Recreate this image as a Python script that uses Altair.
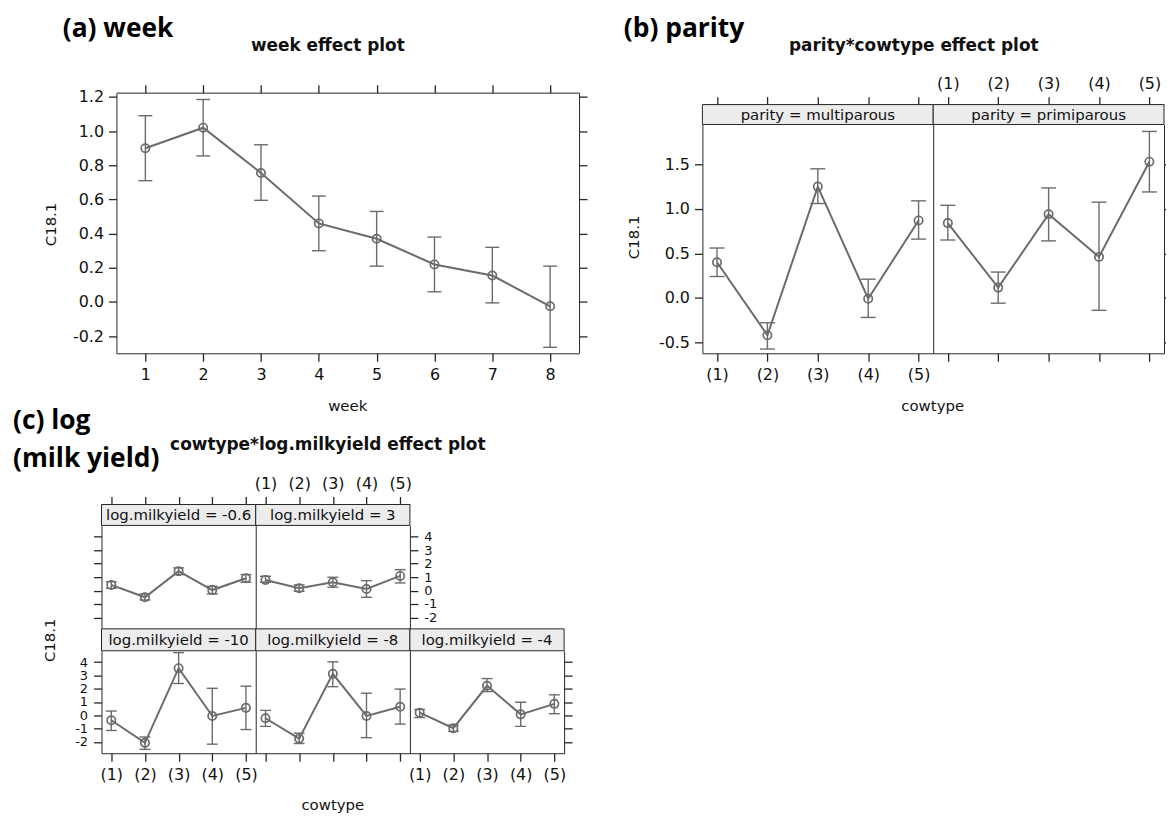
import altair as alt
import pandas as pd

# ---------------- data ----------------
weeks = [1, 2, 3, 4, 5, 6, 7, 8]
week_fit = [0.90, 1.02, 0.755, 0.46, 0.37, 0.22, 0.155, -0.025]
week_lower = [0.71, 0.855, 0.595, 0.30, 0.21, 0.06, -0.005, -0.265]
week_upper = [1.09, 1.185, 0.92, 0.62, 0.53, 0.38, 0.32, 0.21]
week_yticks = [-0.2, 0.0, 0.2, 0.4, 0.6, 0.8, 1.0, 1.2]

cowtypes = [1, 2, 3, 4, 5]

multi_fit = [0.40, -0.42, 1.25, -0.01, 0.87]
multi_lower = [0.24, -0.575, 1.06, -0.22, 0.66]
multi_upper = [0.56, -0.28, 1.45, 0.21, 1.09]
prim_fit = [0.84, 0.115, 0.94, 0.46, 1.53]
prim_lower = [0.65, -0.06, 0.64, -0.14, 1.19]
prim_upper = [1.04, 0.29, 1.235, 1.075, 1.87]
parity_yticks = [-0.5, 0.0, 0.5, 1.0, 1.5]

my_m06_fit = [0.42, -0.50, 1.44, 0.04, 0.92]
my_m06_lower = [0.17, -0.70, 1.19, -0.25, 0.62]
my_m06_upper = [0.66, -0.25, 1.69, 0.32, 1.19]
my_p3_fit = [0.79, 0.17, 0.62, 0.12, 1.09]
my_p3_lower = [0.62, -0.05, 0.25, -0.50, 0.57]
my_p3_upper = [1.07, 0.42, 0.99, 0.74, 1.56]
my_m10_fit = [-0.37, -2.07, 3.54, -0.05, 0.56]
my_m10_lower = [-1.14, -2.56, 2.39, -2.17, -1.07]
my_m10_upper = [0.32, -1.63, 4.71, 2.03, 2.19]
my_m8_fit = [-0.22, -1.75, 3.12, -0.05, 0.64]
my_m8_lower = [-0.83, -2.12, 2.15, -1.68, -0.66]
my_m8_upper = [0.37, -1.34, 4.02, 1.66, 1.97]
my_m4_fit = [0.20, -0.97, 2.22, 0.07, 0.86]
my_m4_lower = [-0.17, -1.21, 1.78, -0.83, 0.12]
my_m4_upper = [0.44, -0.73, 2.76, 0.98, 1.54]
milk_yticks = [-2, -1, 0, 1, 2, 3, 4]

# ---------------- layout / style ----------------
W, H = 1164, 806
FONT = "DejaVu Sans"
HEAD_FONT = "Open Sans"
GRAY = "#6b6b6b"
INK = "#262626"
STRIP = "#ececec"

FMT1 = "replace(format(datum.value, '.1f'), '\u2212', '-')"
FMTI = "replace(format(datum.value, 'd'), '\u2212', '-')"
FMTC = "'(' + datum.value + ')'"


def ax(orient, pos, values, labels=True, ticks=True, expr=None, size=16, **kw):
    if orient == "bottom":
        off = pos - H
    elif orient == "right":
        off = pos - W
    else:
        off = -pos
    args = dict(orient=orient, offset=off, values=values, labels=labels, ticks=ticks,
                tickSize=8, tickWidth=1.3, tickColor=INK, domain=True, domainColor=INK,
                domainWidth=1, grid=False, labelFont=FONT, labelFontSize=size,
                labelColor="#111111", labelPadding=5, labelOverlap=False, labelFlush=False,
                title=None)
    if expr:
        args["labelExpr"] = expr
    if "title" in kw:
        args.update(titleFont=FONT, titleFontSize=15, titleColor="#111111",
                    titleFontWeight="normal", titleAlign="center", titleBaseline="middle",
                    titleAngle=0)
    args.update(kw)
    return alt.Axis(**args)


def frame(xcol, xvals, fit, lower, upper):
    return pd.DataFrame({xcol: xvals, "fit": fit, "lower": lower, "upper": upper})


def panel(df, xcol, xdom, xr, ydom, yr, cap, axes):
    sx = alt.Scale(domain=xdom, range=xr, zero=False, nice=False)
    sy = alt.Scale(domain=ydom, range=yr, zero=False, nice=False)
    caps_df = pd.concat([
        pd.DataFrame({xcol: df[xcol], "bound": df["lower"]}),
        pd.DataFrame({xcol: df[xcol], "bound": df["upper"]}),
    ], ignore_index=True)
    bars = alt.Chart(df).mark_rule(color=GRAY, strokeWidth=1.4).encode(
        x=alt.X(f"{xcol}:Q", scale=sx, axis=axes.get("bottom")),
        y=alt.Y("lower:Q", scale=sy, axis=axes.get("left")),
        y2="upper:Q",
    )
    caps = alt.Chart(caps_df).mark_tick(orient="horizontal", size=cap, thickness=1.4,
                                        color=GRAY, opacity=1).encode(
        x=alt.X(f"{xcol}:Q", scale=sx, axis=axes.get("top")),
        y=alt.Y("bound:Q", scale=sy, axis=axes.get("right")),
    )
    line = alt.Chart(df).mark_line(color=GRAY, strokeWidth=2).encode(
        x=alt.X(f"{xcol}:Q", scale=sx, axis=None),
        y=alt.Y("fit:Q", scale=sy, axis=None),
    )
    pts = alt.Chart(df).mark_point(shape="circle", filled=False, size=70, strokeWidth=1.7,
                                   color=GRAY, opacity=1).encode(
        x=alt.X(f"{xcol}:Q", scale=sx, axis=None),
        y=alt.Y("fit:Q", scale=sy, axis=None),
    )
    return [bars, caps, line, pts]


def strip(label, xr, yr, size=15):
    d = pd.DataFrame({"label": [label]})
    sx = alt.Scale(domain=[0, 1], range=xr, zero=False, nice=False)
    sy = alt.Scale(domain=[0, 1], range=yr, zero=False, nice=False)
    box = alt.Chart(d).mark_rect(fill=STRIP, stroke=INK, strokeWidth=1).encode(
        x=alt.X(datum=0, scale=sx, axis=None), x2=alt.X2(datum=1),
        y=alt.Y(datum=0, scale=sy, axis=None), y2=alt.Y2(datum=1),
    )
    txt = alt.Chart(d).mark_text(font=FONT, fontSize=size, color="#111111").encode(
        x=alt.X(datum=0.5, scale=sx, axis=None),
        y=alt.Y(datum=0.5, scale=sy, axis=None),
        text="label:N",
    )
    return [box, txt]


def heading(text, x, y):
    return alt.Chart(pd.DataFrame({"t": [text]})).mark_text(
        font=HEAD_FONT, fontSize=26.5, fontWeight="bold", align="left",
        baseline="alphabetic", color="#000000",
    ).encode(x=alt.value(x), y=alt.value(y), text="t:N")


TITLE_BOLD = dict(titleFontWeight="bold", titleFontSize=17, titleBaseline="alphabetic")

layers = []

# ---------------- (a) week ----------------
A_X, A_Y = [109, 574], [345, 83]
layers += panel(
    frame("week", weeks, week_fit, week_lower, week_upper), "week",
    [0.5, 8.5], A_X, [-0.3, 1.225], A_Y, 14,
    {
        "bottom": ax("bottom", 345, weeks, title="week", titleX=341, titleY=52),
        "left": ax("left", 109, week_yticks, expr=FMT1, title="C18.1",
                   titleX=-66, titleY=215, titleAngle=270),
        "top": ax("top", 83, weeks, labels=False, title="week effect plot",
                  titleX=321, titleY=-42, **TITLE_BOLD),
        "right": ax("right", 574, week_yticks, labels=False),
    },
)

# ---------------- (b) parity*cowtype ----------------
CDOM = [0.71, 5.29]
B_Y = [345, 115]
B_STRIP = [115, 95]
BDOM = [-0.623, 1.948]
layers += panel(
    frame("cowtype", cowtypes, multi_fit, multi_lower, multi_upper), "cowtype",
    CDOM, [698, 930], BDOM, B_Y, 15,
    {
        "bottom": ax("bottom", 345, cowtypes, expr=FMTC, size=16, title="cowtype",
                     titleX=929, titleY=52),
        "left": ax("left", 698, parity_yticks, expr=FMT1, title="C18.1",
                   titleX=-69, titleY=228, titleAngle=270),
        "top": ax("top", 95, cowtypes, labels=False),
        "right": ax("right", 930, parity_yticks, labels=False, ticks=False),
    },
)
layers += panel(
    frame("cowtype", cowtypes, prim_fit, prim_lower, prim_upper), "cowtype",
    CDOM, [930, 1162], BDOM, B_Y, 15,
    {
        "bottom": ax("bottom", 345, cowtypes, labels=False),
        "top": ax("top", 95, cowtypes, expr=FMTC, size=16,
                  title="parity*cowtype effect plot", titleX=910, titleY=-54, **TITLE_BOLD),
        "right": ax("right", 1162, parity_yticks, labels=False),
    },
)
layers += strip("parity = multiparous", [698, 930], B_STRIP)
layers += strip("parity = primiparous", [930, 1162], B_STRIP)

# ---------------- (c) cowtype*log.milkyield ----------------
C1, C2, C3 = [94, 249], [249, 404], [404, 559]
TOP_Y, TOP_STRIP = [622, 518], [518, 497]
BOT_Y, BOT_STRIP = [747, 644], [644, 622]
MDOM = [-2.85, 4.85]

layers += panel(
    frame("cowtype", cowtypes, my_m06_fit, my_m06_lower, my_m06_upper), "cowtype",
    CDOM, C1, MDOM, TOP_Y, 11,
    {
        "bottom": ax("bottom", 622, cowtypes, labels=False, ticks=False),
        "left": ax("left", 94, milk_yticks, labels=False),
        "top": ax("top", 497, cowtypes, labels=False),
        "right": ax("right", 249, milk_yticks, labels=False, ticks=False),
    },
)
layers += panel(
    frame("cowtype", cowtypes, my_p3_fit, my_p3_lower, my_p3_upper), "cowtype",
    CDOM, C2, MDOM, TOP_Y, 11,
    {
        "bottom": ax("bottom", 622, cowtypes, labels=False, ticks=False),
        "top": ax("top", 497, cowtypes, expr=FMTC, size=16,
                  title="cowtype*log.milkyield effect plot", titleX=321, titleY=-55,
                  **TITLE_BOLD),
        "right": ax("right", 404, milk_yticks, expr=FMTI, size=13, labelPadding=6),
    },
)
layers += panel(
    frame("cowtype", cowtypes, my_m10_fit, my_m10_lower, my_m10_upper), "cowtype",
    CDOM, C1, MDOM, BOT_Y, 11,
    {
        "bottom": ax("bottom", 747, cowtypes, expr=FMTC, size=16, title="cowtype",
                     titleX=326, titleY=52),
        "left": ax("left", 94, milk_yticks, expr=FMTI, size=13, labelPadding=6,
                   title="C18.1", titleX=-52, titleY=633, titleAngle=270),
        "right": ax("right", 249, milk_yticks, labels=False, ticks=False),
    },
)
layers += panel(
    frame("cowtype", cowtypes, my_m8_fit, my_m8_lower, my_m8_upper), "cowtype",
    CDOM, C2, MDOM, BOT_Y, 11,
    {
        "bottom": ax("bottom", 747, cowtypes, labels=False),
        "right": ax("right", 404, milk_yticks, labels=False, ticks=False),
    },
)
layers += panel(
    frame("cowtype", cowtypes, my_m4_fit, my_m4_lower, my_m4_upper), "cowtype",
    CDOM, C3, MDOM, BOT_Y, 11,
    {
        "bottom": ax("bottom", 747, cowtypes, expr=FMTC, size=16),
        "right": ax("right", 559, milk_yticks, labels=False),
    },
)
layers += strip("log.milkyield = -0.6", C1, TOP_STRIP)
layers += strip("log.milkyield = 3", C2, TOP_STRIP)
layers += strip("log.milkyield = -10", C1, BOT_STRIP)
layers += strip("log.milkyield = -8", C2, BOT_STRIP)
layers += strip("log.milkyield = -4", C3, BOT_STRIP)

# ---------------- panel headings ----------------
layers += [
    heading("(a) week", 55, 27),
    heading("(b) parity", 619, 27),
    heading("(c) log", 5, 421),
    heading("(milk yield)", 5, 459),
]

chart = (
    alt.layer(*layers)
    .resolve_scale(x="independent", y="independent")
    .properties(width=W, height=H, autosize=alt.AutoSizeParams(type="none"), padding=0,
                background="white")
    .configure_view(strokeWidth=0)
)

chart.save("out.html", embed_options={"renderer": "svg", "actions": False})
